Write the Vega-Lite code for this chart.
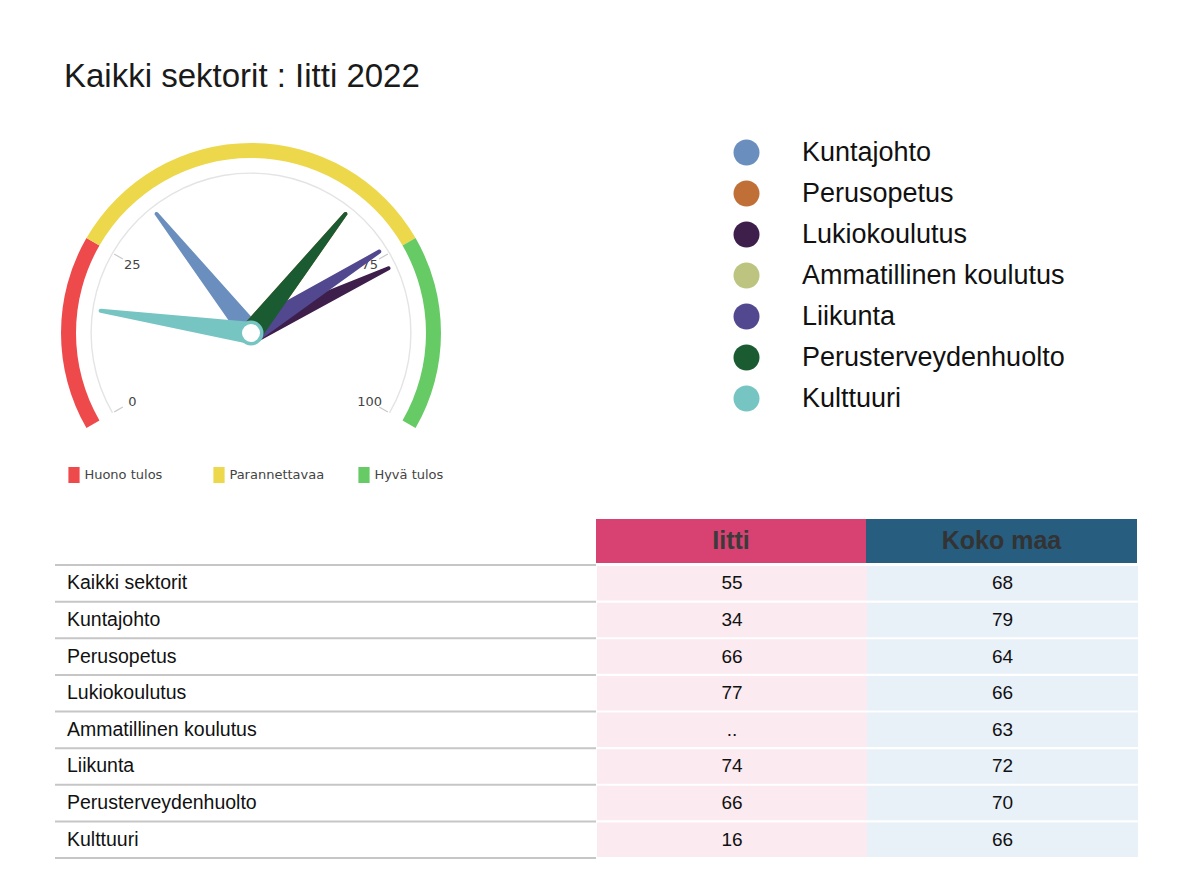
{
  "$schema": "https://vega.github.io/schema/vega-lite/v6.json",
  "padding": {"left": 54, "top": 61, "right": 0, "bottom": 0},
  "background": "white",
  "bounds": "flush",
  "spacing": 0,
  "title": {"text": "Kaikki sektorit : Iitti 2022", "anchor": "start", "font": "Liberation Sans", "fontSize": 33, "fontWeight": "normal", "color": "#1a1a1a", "dx": 10, "offset": 45},
  "config": {"view": {"stroke": null}, "font": "Liberation Sans"},
  "datasets": {
    "sectors": [
      {"sector": "Kaikki sektorit", "iitti": 55, "koko": 68},
      {"sector": "Kuntajohto", "iitti": 34, "koko": 79},
      {"sector": "Perusopetus", "iitti": 66, "koko": 64},
      {"sector": "Lukiokoulutus", "iitti": 77, "koko": 66},
      {"sector": "Ammatillinen koulutus", "iitti": null, "koko": 63},
      {"sector": "Liikunta", "iitti": 74, "koko": 72},
      {"sector": "Perusterveydenhuolto", "iitti": 66, "koko": 70},
      {"sector": "Kulttuuri", "iitti": 16, "koko": 66}
    ],
    "bands": [
      {"band": "Huono tulos", "from": 0, "to": 25},
      {"band": "Parannettavaa", "from": 25, "to": 75},
      {"band": "Hyvä tulos", "from": 75, "to": 100}
    ],
    "ticks": [{"v": 0}, {"v": 25}, {"v": 75}, {"v": 100}],
    "headers": [{"col": "Iitti"}, {"col": "Koko maa"}]
  },
  "vconcat": [
    {
      "width": 392,
      "height": 372,
      "layer": [
        {
          "data": {"name": "bands"},
          "mark": {"type": "arc", "radius": 190, "radius2": 175},
          "encoding": {
            "theta": {"field": "from", "type": "quantitative", "scale": {"domain": [0, 100], "range": [-2.0944, 2.0944]}},
            "theta2": {"field": "to"},
            "color": {
              "field": "band", "type": "nominal", "sort": null,
              "scale": {"domain": ["Huono tulos", "Parannettavaa", "Hyvä tulos"], "range": ["#ee4a4b", "#ecd84a", "#66cb65"]},
              "legend": {"title": null, "orient": "none", "legendX": 11, "legendY": 320, "direction": "horizontal", "columns": 3, "gridAlign": "all", "columnPadding": 31, "symbolType": "M-0.7,-1L0.7,-1L0.7,1L-0.7,1Z", "symbolSize": 256, "symbolStrokeWidth": 0, "labelFont": "DejaVu Sans", "labelFontSize": 13, "labelColor": "#444", "labelOffset": 2.4}
            }
          }
        },
        {
          "data": {"name": "ticks"},
          "mark": {"type": "arc", "radius": 160.6, "radius2": 159.2, "color": "#e4e4e4"},
          "encoding": {
            "theta": {"aggregate": "min", "field": "v", "type": "quantitative", "scale": {"domain": [0, 100], "range": [-2.0944, 2.0944]}},
            "theta2": {"aggregate": "max", "field": "v"}
          }
        },
        {
          "data": {"name": "ticks"},
          "mark": {"type": "point", "shape": "M0,-0.925L0,-0.9875", "size": 102400, "filled": false, "stroke": "#c8c8c8", "strokeWidth": 1.2, "opacity": 1},
          "encoding": {
            "angle": {"field": "v", "type": "quantitative", "scale": {"domain": [0, 100], "range": [-120, 120]}}
          }
        },
        {
          "data": {"name": "ticks"},
          "mark": {"type": "text", "radius": 137, "font": "DejaVu Sans", "fontSize": 13, "color": "#444", "align": "center", "baseline": "middle"},
          "encoding": {
            "theta": {"field": "v", "type": "quantitative", "scale": {"domain": [0, 100], "range": [-2.0944, 2.0944]}},
            "text": {"field": "v", "type": "quantitative"}
          }
        },
        {
          "data": {"name": "sectors"},
          "transform": [{"filter": "datum.sector !== 'Kaikki sektorit' && datum.iitti !== null"}],
          "mark": {"type": "point", "shape": "M-0.072,0L-0.013,-0.987A0.013,0.013,0,0,1,0.013,-0.987L0.072,0Z", "size": 94864, "filled": true, "opacity": 1, "strokeWidth": 0},
          "encoding": {
            "angle": {"field": "iitti", "type": "quantitative", "scale": {"domain": [0, 100], "range": [-120, 120]}},
            "fill": {
              "field": "sector", "type": "nominal",
              "scale": {
                "domain": ["Kuntajohto", "Perusopetus", "Lukiokoulutus", "Ammatillinen koulutus", "Liikunta", "Perusterveydenhuolto", "Kulttuuri"],
                "range": ["#6a8fbf", "#c06f37", "#3e1e4a", "#bdc47f", "#52488f", "#1a5b32", "#76c5c3"]
              },
              "legend": {"title": null, "orient": "none", "legendX": 678, "legendY": -8, "direction": "vertical", "symbolType": "circle", "symbolSize": 676, "symbolStrokeWidth": 0, "symbolOpacity": 1, "labelFont": "Liberation Sans", "labelFontSize": 27, "labelColor": "#111", "labelOffset": 42, "labelLimit": 500, "rowPadding": 13}
            }
          }
        },
        {
          "data": {"name": "sectors"},
          "transform": [{"filter": "datum.sector === 'Kulttuuri'"}],
          "mark": {"type": "point", "shape": "circle", "size": 462, "filled": true, "fill": "white", "stroke": "#76c5c3", "strokeWidth": 3.5, "opacity": 1},
          "encoding": {}
        }
      ]
    },
    {
      "spacing": 1,
      "vconcat": [
        {
          "spacing": 0,
          "hconcat": [
            {"width": 541, "height": 44, "data": {"name": "headers"}, "mark": {"type": "rect", "opacity": 0}, "encoding": {}},
            {
              "width": 270, "height": 44, "data": {"name": "headers"},
              "transform": [{"filter": "datum.col === 'Iitti'"}],
              "layer": [
                {"mark": {"type": "rect", "color": "#d84273"}, "encoding": {}},
                {"mark": {"type": "text", "font": "Liberation Sans", "fontSize": 25, "fontWeight": "bold", "color": "#3b3b3b"}, "encoding": {"text": {"field": "col", "type": "nominal"}}}
              ]
            },
            {
              "width": 271, "height": 44, "data": {"name": "headers"},
              "transform": [{"filter": "datum.col === 'Koko maa'"}],
              "layer": [
                {"mark": {"type": "rect", "color": "#275d7f"}, "encoding": {}},
                {"mark": {"type": "text", "font": "Liberation Sans", "fontSize": 25, "fontWeight": "bold", "color": "#333333"}, "encoding": {"text": {"field": "col", "type": "nominal"}}}
              ]
            }
          ]
        },
        {
          "spacing": 0,
          "hconcat": [
            {
              "width": 541, "height": 293, "data": {"name": "sectors"},
              "layer": [
                {
                  "mark": {"type": "rule", "color": "#c6c6c6", "strokeWidth": 2},
                  "encoding": {"y": {"field": "sector", "type": "nominal", "bandPosition": 0, "axis": null, "scale": {"domain": ["Kaikki sektorit", "Kuntajohto", "Perusopetus", "Lukiokoulutus", "Ammatillinen koulutus", "Liikunta", "Perusterveydenhuolto", "Kulttuuri"], "paddingInner": 0, "paddingOuter": 0}}}
                },
                {
                  "transform": [{"filter": "datum.sector === 'Kulttuuri'"}],
                  "mark": {"type": "rule", "color": "#c6c6c6", "strokeWidth": 2},
                  "encoding": {"y": {"field": "sector", "type": "nominal", "bandPosition": 1, "axis": null}}
                },
                {
                  "mark": {"type": "text", "align": "left", "dx": 12, "font": "Liberation Sans", "fontSize": 19.5, "color": "#111"},
                  "encoding": {
                    "y": {"field": "sector", "type": "nominal", "axis": null},
                    "x": {"datum": 0, "type": "quantitative", "scale": {"domain": [0, 1]}, "axis": null},
                    "text": {"field": "sector", "type": "nominal"}
                  }
                }
              ]
            },
            {
              "width": 270, "height": 293, "data": {"name": "sectors"},
              "encoding": {"y": {"field": "sector", "type": "nominal", "axis": null, "scale": {"domain": ["Kaikki sektorit", "Kuntajohto", "Perusopetus", "Lukiokoulutus", "Ammatillinen koulutus", "Liikunta", "Perusterveydenhuolto", "Kulttuuri"], "paddingInner": 0.055, "paddingOuter": 0.0275}}},
              "layer": [
                {"mark": {"type": "rect", "color": "#fbeaf0"}},
                {"mark": {"type": "text", "font": "Liberation Sans", "fontSize": 19, "color": "#111"}, "encoding": {"text": {"condition": {"test": "datum.iitti === null", "value": ".."}, "field": "iitti", "type": "quantitative"}}}
              ]
            },
            {
              "width": 271, "height": 293, "data": {"name": "sectors"},
              "encoding": {"y": {"field": "sector", "type": "nominal", "axis": null, "scale": {"domain": ["Kaikki sektorit", "Kuntajohto", "Perusopetus", "Lukiokoulutus", "Ammatillinen koulutus", "Liikunta", "Perusterveydenhuolto", "Kulttuuri"], "paddingInner": 0.055, "paddingOuter": 0.0275}}},
              "layer": [
                {"mark": {"type": "rect", "color": "#e8f0f8"}},
                {"mark": {"type": "text", "font": "Liberation Sans", "fontSize": 19, "color": "#111"}, "encoding": {"text": {"field": "koko", "type": "quantitative"}}}
              ]
            }
          ]
        }
      ]
    }
  ]
}
